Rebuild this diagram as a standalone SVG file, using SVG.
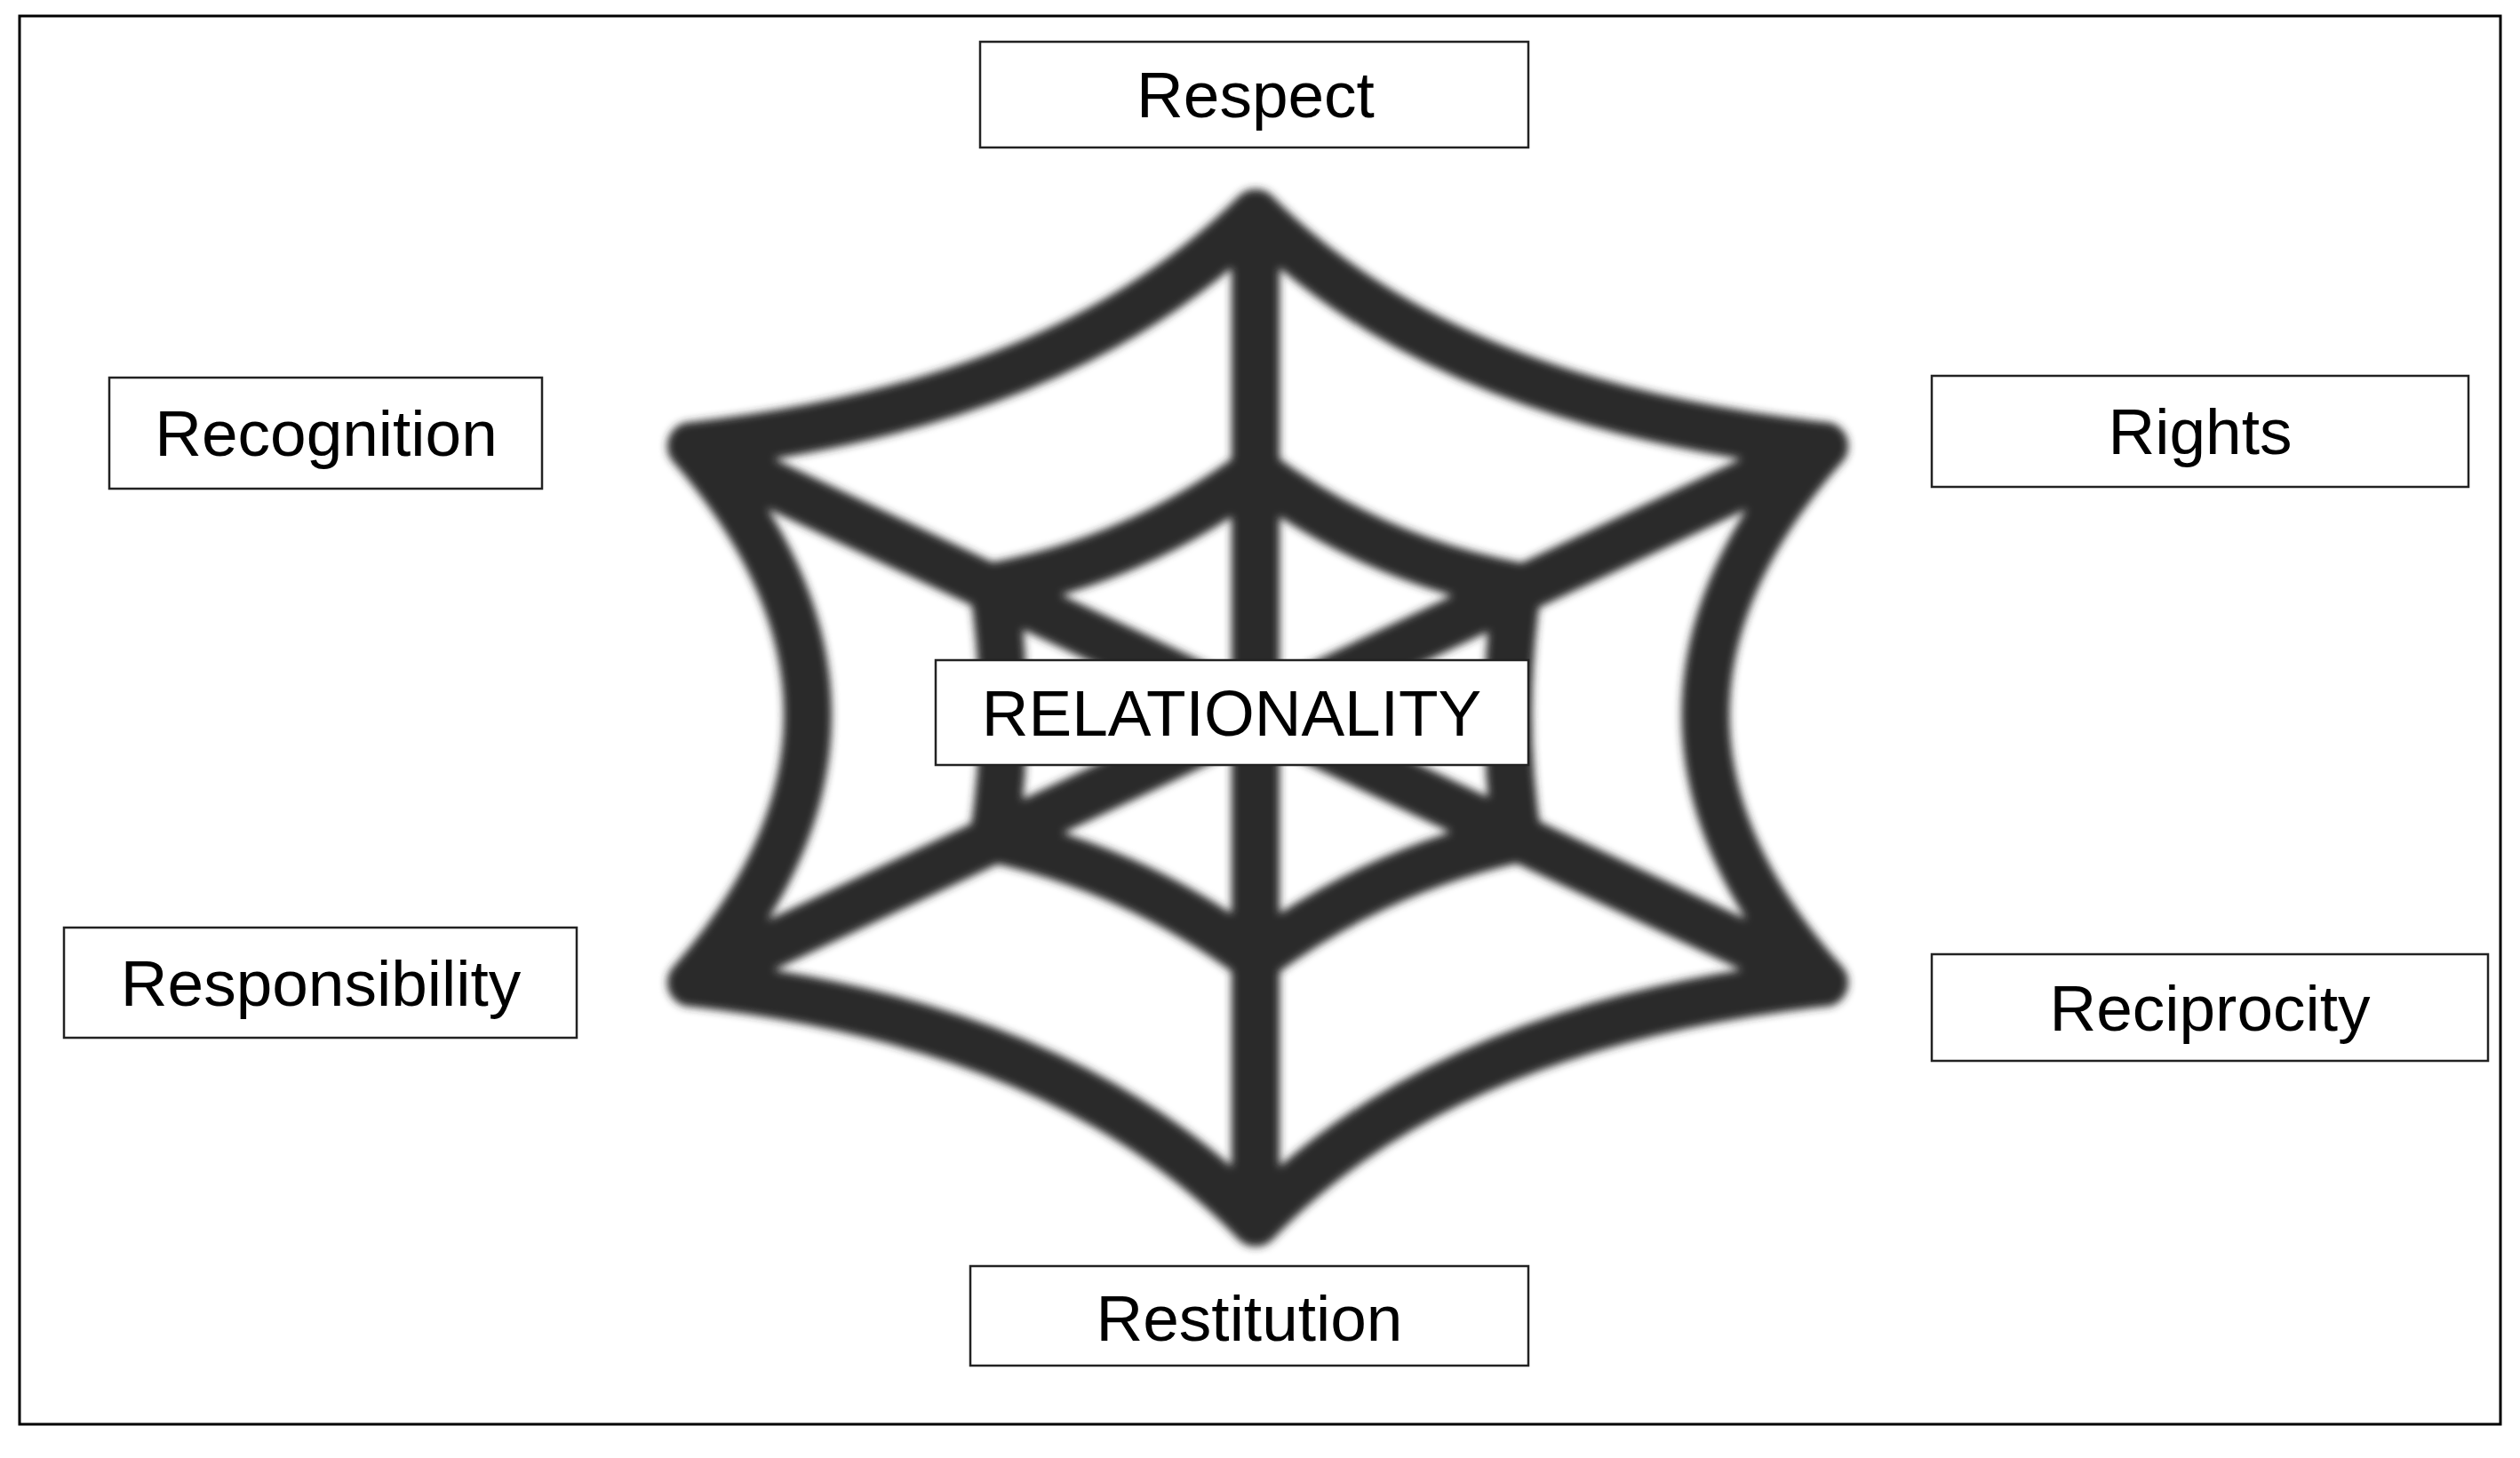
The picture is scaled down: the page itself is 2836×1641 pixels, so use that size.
<svg xmlns="http://www.w3.org/2000/svg" width="2836" height="1641" viewBox="0 0 2836 1641">
<style>
.box{fill:#fff;stroke:#222;stroke-width:2.5}
.t{font-family:"Liberation Sans",Arial,sans-serif;font-size:73px;fill:#000;text-anchor:middle;dominant-baseline:central}
.web{fill:none;stroke:#2b2b2b;stroke-width:54;stroke-linecap:round;stroke-linejoin:round}
</style>
<defs><filter id="b" x="-10%" y="-10%" width="120%" height="120%"><feGaussianBlur stdDeviation="5"/></filter></defs>
<rect x="0" y="0" width="2836" height="1641" fill="#fff"/>
<rect x="22" y="18" width="2792" height="1585" fill="none" stroke="#000" stroke-width="3"/>
<g id="web" filter="url(#b)" class="web">
<path d="M1413 240 Q1200 455 778 502 Q1040 805 778 1106 Q1200 1153 1413 1376 Q1626 1153 2053 1106 Q1786 805 2053 502 Q1626 455 1413 240 Z"/>
<path d="M1413 240 L1413 1376 M778 502 L2053 1106 M778 1106 L2053 502"/>
<path d="M1413 530 Q1280 630 1118 660 Q1140 805 1118 944 Q1280 980 1413 1080 Q1546 980 1708 944 Q1686 805 1708 660 Q1546 630 1413 530 Z"/>
</g>
<g id="n-respect"><rect class="box" x="1103" y="47" width="617" height="119"/><text class="t" x="1413" y="106">Respect</text></g>
<g id="n-recognition"><rect class="box" x="123" y="425" width="487" height="125"/><text class="t" x="367" y="487">Recognition</text></g>
<g id="n-rights"><rect class="box" x="2174" y="423" width="604" height="125"/><text class="t" x="2476" y="485">Rights</text></g>
<g id="n-responsibility"><rect class="box" x="72" y="1044" width="577" height="124"/><text class="t" x="361" y="1106">Responsibility</text></g>
<g id="n-reciprocity"><rect class="box" x="2174" y="1074" width="626" height="120"/><text class="t" x="2487" y="1134">Reciprocity</text></g>
<g id="n-restitution"><rect class="box" x="1092" y="1425" width="628" height="112"/><text class="t" x="1406" y="1483">Restitution</text></g>
<g id="n-relationality"><rect class="box" x="1053" y="743" width="667" height="118"/><text class="t" x="1386" y="802">RELATIONALITY</text></g>
<g id="connectors"/>
</svg>
